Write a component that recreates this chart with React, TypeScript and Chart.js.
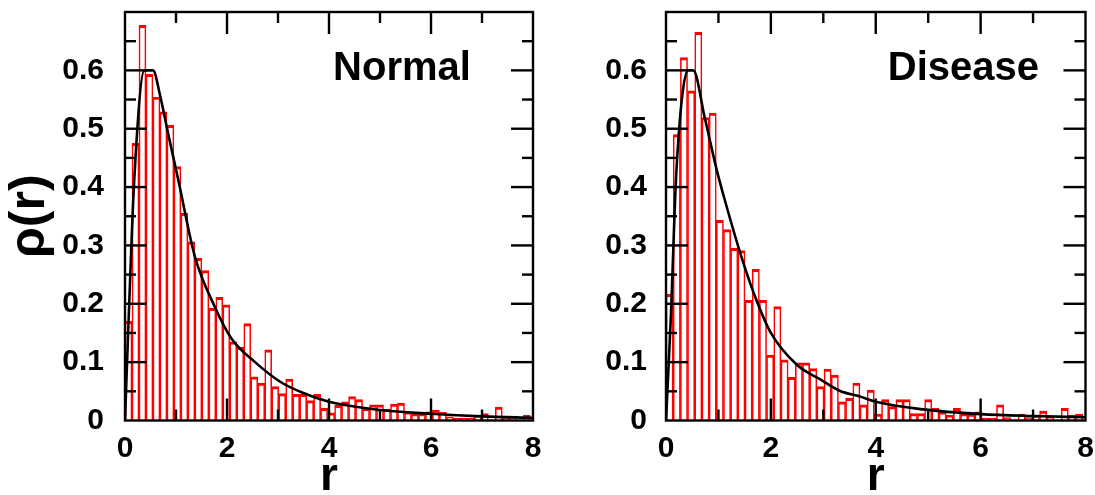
import React, { useEffect, useRef } from "react";
import { Chart, registerables } from "chart.js";

Chart.register(...registerables);

// ---------- data ----------
const BIN_WIDTH = 0.137; // histogram bin width in r

const normalHeights = [
  0.17, 0.475, 0.677, 0.593, 0.554, 0.529, 0.506, 0.435, 0.355, 0.306,
  0.278, 0.257, 0.192, 0.211, 0.198, 0.135, 0.126, 0.166, 0.075, 0.064,
  0.121, 0.058, 0.046, 0.071, 0.045, 0.045, 0.034, 0.045, 0.021, 0.013,
  0.026, 0.032, 0.041, 0.036, 0.021, 0.027, 0.027, 0.019, 0.028, 0.03,
  0.015, 0.012, 0.012, 0.015, 0.018, 0.014, 0.0065, 0.004, 0.004, 0.004,
  0.009, 0.012, 0, 0.023, 0.005, 0.005, 0, 0.009,
];

const diseaseHeights = [
  0.216, 0.49, 0.622, 0.565, 0.665, 0.519, 0.527, 0.343, 0.327, 0.295,
  0.291, 0.206, 0.259, 0.206, 0.112, 0.195, 0.104, 0.074, 0.099, 0.099,
  0.089, 0.058, 0.088, 0.078, 0.032, 0.038, 0.064, 0.027, 0.052, 0.011,
  0.036, 0.024, 0.036, 0.036, 0.012, 0.012, 0.036, 0.021, 0.015, 0.009,
  0.021, 0.012, 0.011, 0.015, 0.004, 0.004, 0.027, 0.005, 0, 0.011,
  0.005, 0.008, 0.016, 0.006, 0, 0.021, 0.009, 0.011,
];

const normalCurveR = [0, 0.07, 0.18, 0.38, 0.55, 0.69, 0.85, 1.05, 1.37, 1.76, 2.09, 2.55, 3.05, 3.5, 4.0, 5.0, 6.0, 7.0, 8.0];
const normalCurveRho = [0, 0.17, 0.41, 0.6, 0.6, 0.556, 0.49, 0.41, 0.281, 0.195, 0.14, 0.1, 0.066, 0.047, 0.032, 0.018, 0.0115, 0.007, 0.0046];

const diseaseCurveR = [0, 0.09, 0.2, 0.425, 0.52, 0.743, 0.966, 1.124, 1.44, 1.7, 2.0, 2.5, 2.95, 3.31, 3.7, 4.0, 4.9, 6.0, 7.0, 8.0];
const diseaseCurveRho = [0, 0.172, 0.43, 0.6, 0.6, 0.517, 0.43, 0.377, 0.28, 0.212, 0.15, 0.095, 0.07, 0.051, 0.041, 0.032, 0.019, 0.011, 0.0077, 0.0055];

const yTickLabels = ["0", "0.1", "0.2", "0.3", "0.4", "0.5", "0.6", ""];
const xTickLabels = ["0", "2", "4", "6", "8"];

const FONT = "'Liberation Sans', Arial, Helvetica, sans-serif";

// ---------- frame / inward ticks / panel label ----------
const framePlugin = {
  id: "frame",
  afterDatasetsDraw(chart: any, _args: any, opts: any) {
    const { ctx, chartArea: a, scales } = chart;
    const x = scales.x;
    const y = scales.y;
    ctx.save();
    ctx.strokeStyle = "#000";
    ctx.lineWidth = 2.4;
    ctx.lineCap = "butt";
    const line = (x1: number, y1: number, x2: number, y2: number) => {
      ctx.beginPath();
      ctx.moveTo(x1, y1);
      ctx.lineTo(x2, y2);
      ctx.stroke();
    };
    for (let i = 1; i < 8; i++) {
      const px = x.getPixelForValue(i);
      const len = i % 2 === 0 ? 22 : 11;
      line(px, a.bottom, px, a.bottom - len);
      line(px, a.top, px, a.top + len);
    }
    for (let i = 1; i < 14; i++) {
      const py = y.getPixelForValue(i * 0.05);
      const len = i % 2 === 0 ? 22 : 11;
      line(a.left, py, a.left + len, py);
      line(a.right, py, a.right - len, py);
    }
    ctx.strokeRect(a.left, a.top, a.right - a.left, a.bottom - a.top);
    if (opts && opts.label) {
      ctx.fillStyle = "#000";
      ctx.font = `bold 40px ${FONT}`;
      ctx.textAlign = "left";
      ctx.textBaseline = "alphabetic";
      ctx.fillText(opts.label, x.getPixelForValue(opts.labelR), y.getPixelForValue(opts.labelRho));
    }
    ctx.restore();
  },
};

type PanelProps = {
  heights: number[];
  curveR: number[];
  curveRho: number[];
  label: string;
  labelR: number;
  labelRho: number;
  left: number;
  width: number;
  yAxisWidth: number;
  rightPad: number;
  labelPad: number;
  showYTitle: boolean;
};

function HistPanel(p: PanelProps) {
  const ref = useRef<HTMLCanvasElement | null>(null);
  useEffect(() => {
    if (!ref.current) return;
    const bars = p.heights.map((h, k) => ({ x: BIN_WIDTH * (k + 0.5), y: h }));
    const curve = p.curveR.map((r, i) => ({ x: r, y: p.curveRho[i] }));
    const tickFont = { family: FONT, size: 30, weight: "bold" as const, lineHeight: 1.2 };
    const chart = new Chart(ref.current, {
      type: "bar",
      data: {
        datasets: [
          {
            type: "line",
            data: curve,
            borderColor: "#000",
            borderWidth: 2.6,
            pointRadius: 0,
            cubicInterpolationMode: "monotone",
            fill: false,
          } as any,
          {
            type: "bar",
            data: bars,
            backgroundColor: "#fff",
            borderColor: "#ff0000",
            borderWidth: { top: 3, left: 1.6, right: 1.6, bottom: 0 },
            barPercentage: 1,
            categoryPercentage: 1,
            clip: 0,
          } as any,
        ],
      },
      options: {
        animation: false,
        responsive: false,
        layout: { padding: { left: 0, top: 12, right: p.rightPad, bottom: 0 } },
        plugins: {
          legend: { display: false },
          tooltip: { enabled: false },
          frame: { label: p.label, labelR: p.labelR, labelRho: p.labelRho },
        } as any,
        scales: {
          x: {
            type: "linear",
            min: 0,
            max: 8,
            offset: false,
            grid: { display: false },
            border: { display: false },
            ticks: {
              stepSize: 2,
              padding: 2,
              color: "#000",
              font: tickFont,
              maxRotation: 0,
              callback: (v: any) => xTickLabels[Math.round(Number(v) / 2)] ?? "",
            },
            title: {
              display: true,
              text: "r",
              color: "#000",
              font: { family: FONT, size: 46, weight: "bold", lineHeight: 1 },
              padding: { top: 0, bottom: -5 },
            },
            afterFit: (s: any) => {
              s.height = 74.5;
              s.paddingLeft = 0;
              s.paddingRight = 0;
            },
          },
          y: {
            type: "linear",
            min: 0,
            max: 0.7,
            grid: { display: false },
            border: { display: false },
            ticks: {
              stepSize: 0.1,
              padding: p.labelPad,
              color: "#000",
              font: tickFont,
              callback: (v: any) => yTickLabels[Math.round(Number(v) * 10)] ?? "",
            },
            title: {
              display: p.showYTitle,
              text: "ρ(r)",
              color: "#000",
              font: { family: FONT, size: 50, weight: "bold", lineHeight: 1.2 },
              padding: { top: 0, bottom: 0 },
            },
            afterFit: (s: any) => {
              s.width = p.yAxisWidth;
              s.paddingTop = 0;
              s.paddingBottom = 0;
            },
          },
        },
      } as any,
      plugins: [framePlugin],
    });
    return () => chart.destroy();
  }, []);
  return (
    <div style={{ position: "absolute", left: p.left, top: 0, width: p.width, height: 495 }}>
      <canvas ref={ref} width={p.width} height={495} style={{ display: "block", width: p.width, height: 495 }} />
    </div>
  );
}

export default function App() {
  return (
    <div style={{ position: "fixed", left: 0, top: 0, width: 1095, height: 495, background: "#fff", overflow: "hidden" }}>
      <HistPanel
        heights={normalHeights}
        curveR={normalCurveR}
        curveRho={normalCurveRho}
        label="Normal"
        labelR={4.08}
        labelRho={0.584}
        left={0}
        width={545}
        yAxisWidth={125}
        rightPad={12}
        labelPad={13}
        showYTitle={true}
      />
      <HistPanel
        heights={diseaseHeights}
        curveR={diseaseCurveR}
        curveRho={diseaseCurveRho}
        label="Disease"
        labelR={4.23}
        labelRho={0.584}
        left={545}
        width={550}
        yAxisWidth={121}
        rightPad={9.5}
        labelPad={11}
        showYTitle={false}
      />
    </div>
  );
}
